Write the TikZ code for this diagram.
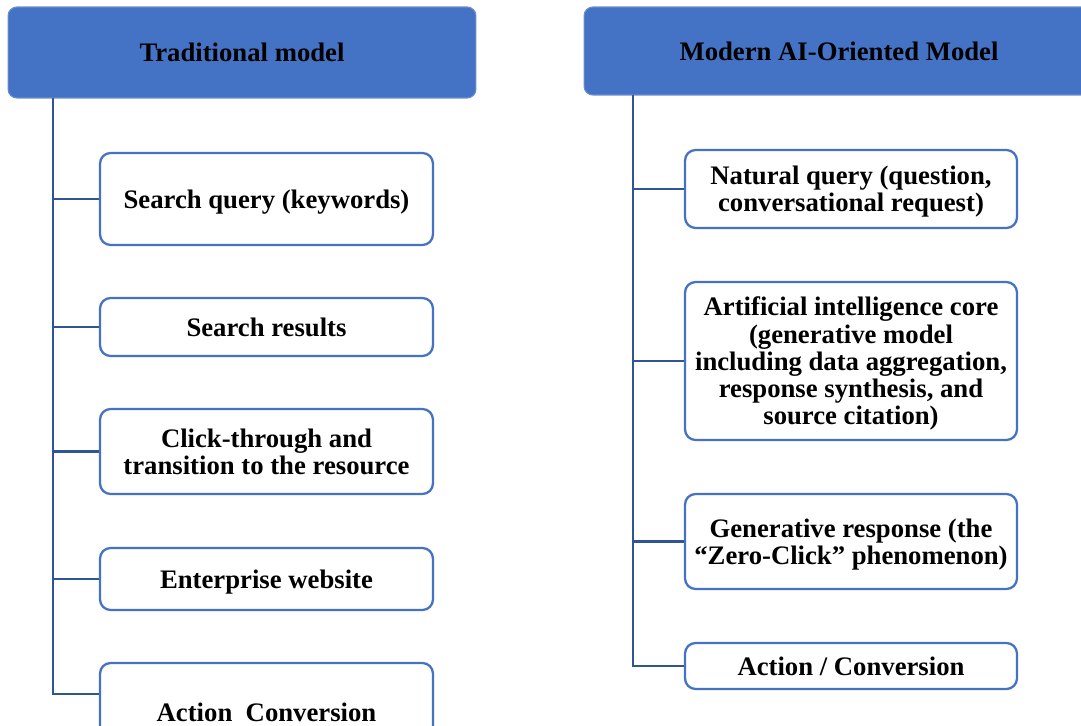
\documentclass[tikz,border=0pt]{standalone}
\usepackage{fontspec}
\setmainfont{Liberation Serif}
\usetikzlibrary{calc}
\definecolor{headblue}{HTML}{4472C4}
\definecolor{linkblue}{HTML}{2F5597}
\tikzstyle{header}=[rectangle,rounded corners=5pt,fill=headblue,draw=headblue!80!white,line width=0.6pt,font=\bfseries\fontsize{15.2}{16}\selectfont]
\tikzstyle{stage}=[rectangle,rounded corners=6pt,draw=headblue,line width=1.3pt,fill=white,align=center,text depth=0pt,font=\bfseries\fontsize{15.2}{15.5}\selectfont]
\tikzstyle{branch} = [draw,linkblue,line width=1.3pt]

\begin{document}
\begin{tikzpicture}[x=0.02cm,y=-0.02cm]
    \useasboundingbox (0,0) rectangle (1081,726);
    \begin{scope}
    \clip (0,0) rectangle (1081,726);

    % the two column heads
    \node[header,minimum width=9.36cm,minimum height=1.82cm] (lhead) at (242,52.5) {Traditional model};
    \node[header,minimum width=10.2cm,minimum height=1.76cm] (rhead) at (839,51) {Modern AI-Oriented Model};
    \coordinate (lroot) at (53,98);
    \coordinate (rroot) at (633,95);

    % traditional path
    \foreach \name/\y/\h/\txt in {l1/199/1.84/{Search query (keywords)}, l2/327/1.16/{Search results},
        l3/451.5/1.7/{Click-through and\\transition to the resource}, l4/579/1.24/{Enterprise website},
        l5/712/1.96/{Action\ \ Conversion}}
        \node[stage,minimum width=6.66cm,minimum height=\h cm] (\name) at (266.5,\y) {\txt};

    % AI-oriented path
    \foreach \name/\y/\h/\txt in {r1/189/1.56/{Natural query (question,\\conversational request)},
        r2/361/3.16/{Artificial intelligence core\\(generative model\\including data aggregation,\\response synthesis, and\\source citation)},
        r3/541.5/1.9/{Generative response (the\\``Zero-Click'' phenomenon)}, r4/666/0.92/{Action / Conversion}}
        \node[stage,minimum width=6.64cm,minimum height=\h cm] (\name) at (851,\y) {\txt};

    % connect the stages to the trunks
    \foreach \dest in {l1,l2,l3,l4}
        \path[branch] (lroot) |- (\dest.west);
    \path[branch] (lroot) |- ([yshift=-0.64cm]l5.north west);
    \foreach \dest in {r1,r2,r3,r4}
        \path[branch] (rroot) |- (\dest.west);
    \end{scope}
\end{tikzpicture}
\end{document}
